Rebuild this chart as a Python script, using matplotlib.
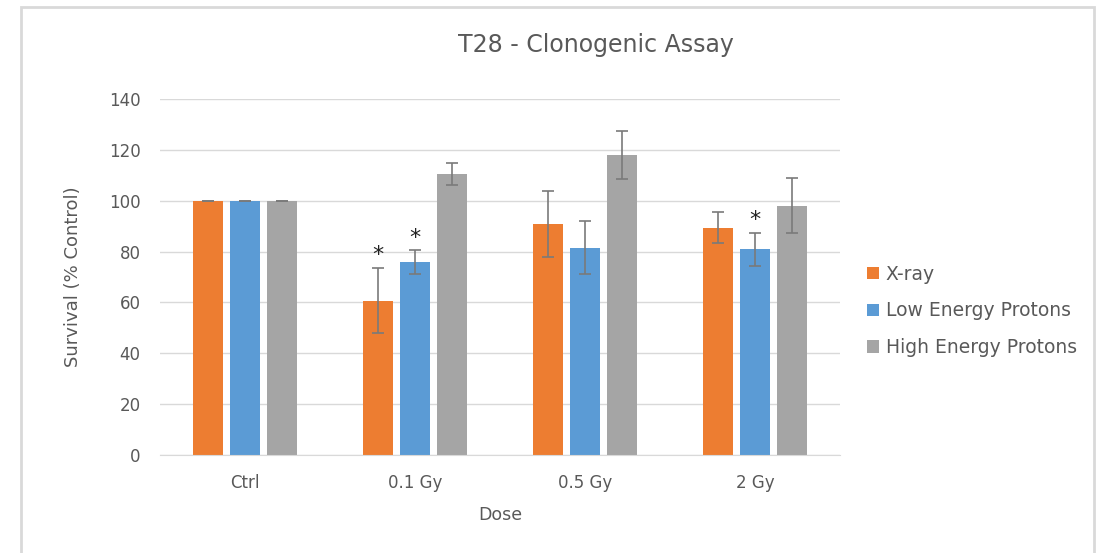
import matplotlib
matplotlib.use("Agg")
import matplotlib.pyplot as plt
from matplotlib.patches import Rectangle
import numpy as np

doses = ["Ctrl", "0.1 Gy", "0.5 Gy", "2 Gy"]
series = ["X-ray", "Low Energy Protons", "High Energy Protons"]
xray = [100, 60.7, 91.0, 89.4]
xray_err = [0, 12.9, 13.0, 6.1]
low = [100, 75.8, 81.5, 81.0]
low_err = [0, 4.8, 10.5, 6.5]
high = [100, 110.5, 118.0, 98.0]
high_err = [0, 4.2, 9.6, 10.8]
# significance stars: (dose index, series index)
stars = [(1, 0), (1, 1), (3, 1)]

colors = ["#ED7D31", "#5B9BD5", "#A5A5A5"]
text_col = "#595959"

fig = plt.figure(figsize=(11.04, 5.53), dpi=100)
# outer chart frame
fig.patches.append(Rectangle((21 / 1104, -0.05), (1094 - 21) / 1104, 1.05 - 7 / 553,
                             transform=fig.transFigure, fill=False,
                             edgecolor="#d9d9d9", linewidth=2))

ax = fig.add_axes([160 / 1104, 1 - 455 / 553, 680 / 1104, 356 / 553])

x = np.arange(len(doses))
offset = 0.22
width = 0.176
values = [xray, low, high]
errors = [xray_err, low_err, high_err]
for i, (vals, errs) in enumerate(zip(values, errors)):
    pos = x + (i - 1) * offset
    ax.bar(pos, vals, width, color=colors[i], label=series[i], zorder=2)
    ax.errorbar(pos, vals, yerr=errs, fmt="none", ecolor="#7a7a7a",
                elinewidth=1.2, capsize=4.5, capthick=1.2, zorder=3)

for d, s in stars:
    top = values[s][d] + errors[s][d]
    ax.text(x[d] + (s - 1) * offset, top + 1.0, "*", ha="center", va="bottom",
            fontsize=16, color="#222222")

ax.set_xlim(-0.5, 3.5)
ax.set_ylim(0, 140)
ax.set_yticks(range(0, 141, 20))
ax.set_xticks(x)
ax.set_xticklabels(doses)
ax.grid(axis="y", color="#d9d9d9", linewidth=1, zorder=0)
ax.set_axisbelow(True)
for sp in ["top", "right", "left"]:
    ax.spines[sp].set_visible(False)
ax.spines["bottom"].set_color("#d9d9d9")
ax.tick_params(length=0, labelsize=12, colors=text_col)
ax.tick_params(axis="y", pad=14)
ax.tick_params(axis="x", pad=14)
ax.set_xlabel("Dose", fontsize=12.5, color=text_col, labelpad=10)
ax.set_ylabel("Survival (% Control)", fontsize=13, color=text_col, labelpad=19)

fig.text(596 / 1104, 1 - 45 / 553, "T28 - Clonogenic Assay", ha="center",
         va="center", fontsize=17, color=text_col)

leg = ax.legend(loc="center left", bbox_to_anchor=(850 / 1104, 1 - 311 / 553),
                bbox_transform=fig.transFigure, frameon=False, fontsize=13.5,
                labelspacing=0.95, handlelength=0.65, handleheight=0.65,
                handletextpad=0.35)
for t in leg.get_texts():
    t.set_color(text_col)

fig.savefig("out.png", dpi=100)
